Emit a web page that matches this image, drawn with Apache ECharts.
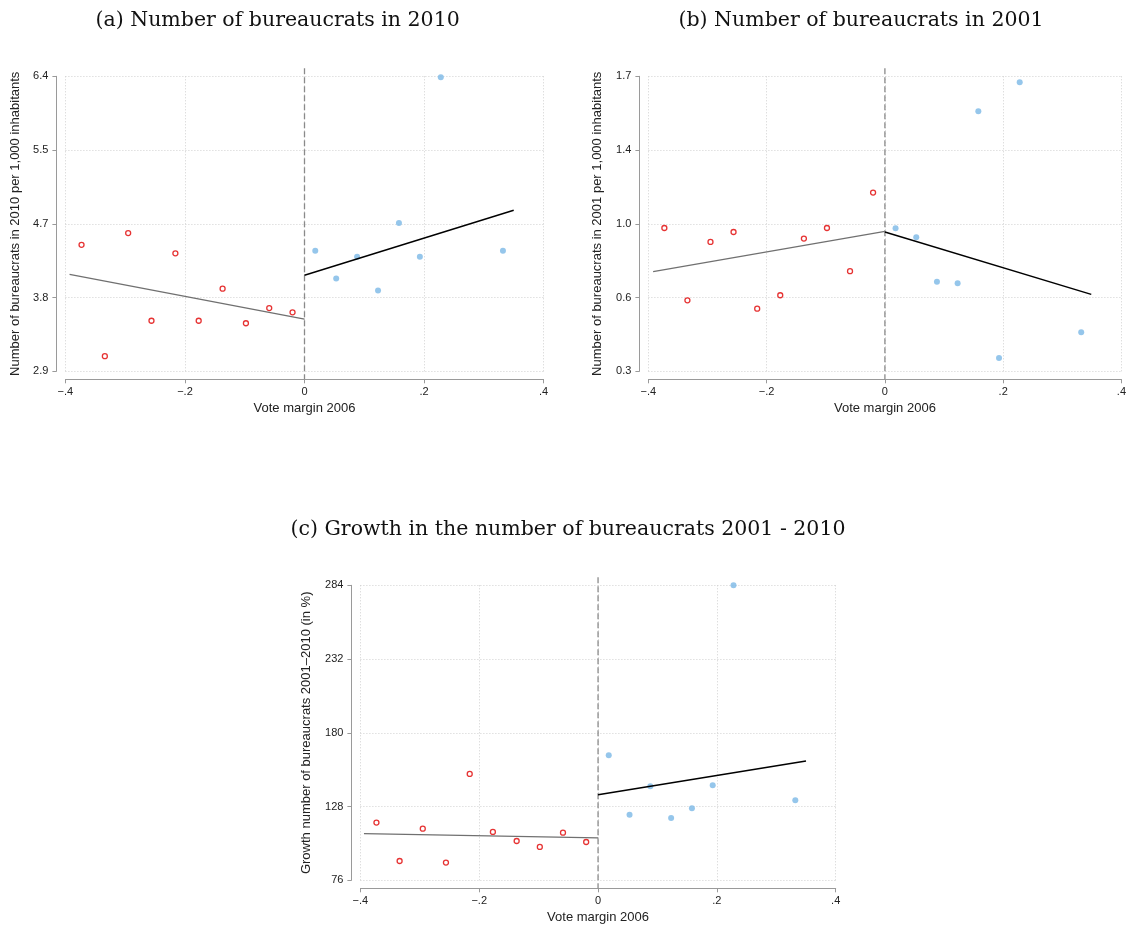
<!DOCTYPE html>
<html>
<head>
<meta charset="utf-8">
<script src="https://cdn.jsdelivr.net/npm/echarts@6/dist/echarts.min.js"></script>
<style>
html,body{margin:0;padding:0;background:#fff;}
#chart{width:1129px;height:927px;}
</style>
</head>
<body>
<div id="chart"></div>
<script>
// ---------- data ----------
const titles = ['(a) Number of bureaucrats in 2010', '(b) Number of bureaucrats in 2001', '(c) Growth in the number of bureaucrats 2001 - 2010'];
const yNames = ['Number of bureaucrats in 2010 per 1,000 inhabitants', 'Number of bureaucrats in 2001 per 1,000 inhabitants', 'Growth number of bureaucrats 2001\u20132010 (in %)'];
const xName = 'Vote margin 2006';
const xTicks = [-0.4, -0.2, 0, 0.2, 0.4];
const xTickLabels = ['\u2212.4', '\u2212.2', '0', '.2', '.4'];

// bin x positions (vote margin)
const redX  = [-0.373, -0.334, -0.295, -0.256, -0.216, -0.177, -0.137, -0.098, -0.059, -0.020];
const blueX = [0.018, 0.053, 0.088, 0.123, 0.158, 0.193, 0.228, 0.332];

// panel (a)
const yTicksA = [2.9, 3.775, 4.65, 5.525, 6.4];
const yLabelsA = ['2.9', '3.8', '4.7', '5.5', '6.4'];
const redA  = [4.40, 3.08, 4.54, 3.50, 4.30, 3.50, 3.88, 3.47, 3.65, 3.60];
const blueA = [4.33, 4.00, 4.26, 3.86, 4.66, 4.26, 6.39, 4.33];
const fitLeftXA = [-0.393, 0], fitLeftYA = [4.05, 3.52];
const fitRightXA = [0, 0.350], fitRightYA = [4.04, 4.81];

// panel (b)
const yTicksB = [0.3, 0.65, 1.0, 1.35, 1.7];
const yLabelsB = ['0.3', '0.6', '1.0', '1.4', '1.7'];
const redB  = [0.980, 0.637, 0.914, 0.961, 0.597, 0.661, 0.930, 0.980, 0.775, 1.148];
const blueB = [0.979, 0.936, 0.725, 0.718, 1.534, 0.363, 1.672, 0.485];
const fitLeftXB = [-0.392, 0], fitLeftYB = [0.773, 0.964];
const fitRightXB = [0, 0.349], fitRightYB = [0.961, 0.665];

// panel (c)
const yTicksC = [76, 128, 180, 232, 284];
const yLabelsC = ['76', '128', '180', '232', '284'];
const redC  = [116.7, 89.6, 112.4, 88.5, 151.0, 110.1, 103.7, 99.5, 109.6, 103.0];
const blueC = [164.1, 122.3, 142.3, 120.0, 126.8, 143.0, 284.0, 132.4];
const fitLeftXC = [-0.394, 0], fitLeftYC = [108.9, 105.9];
const fitRightXC = [0, 0.350], fitRightYC = [136.4, 160.1];

// ---------- layout ----------
const panels = [
  {grid:{left:65.4, top:76.3, width:478.2, height:295}, yTicks:yTicksA, yLabels:yLabelsA, red:redA, blue:blueA,
   fl:[fitLeftXA, fitLeftYA], fr:[fitRightXA, fitRightYA], title:[277.6, 21], nameGap:34},
  {grid:{left:648.4, top:76.3, width:479.2, height:295}, yTicks:yTicksB, yLabels:yLabelsB, red:redB, blue:blueB,
   fl:[fitLeftXB, fitLeftYB], fr:[fitRightXB, fitRightYB], title:[861, 21], nameGap:35},
  {grid:{left:360.4, top:585.3, width:475.3, height:295}, yTicks:yTicksC, yLabels:yLabelsC, red:redC, blue:blueC,
   fl:[fitLeftXC, fitLeftYC], fr:[fitRightXC, fitRightYC], title:[568, 530], nameGap:38}
];

const SANS = '"Liberation Sans", Arial, Helvetica, sans-serif';
const axisGray = '#9a9a9a';
const gridStyle = {show:true, lineStyle:{color:'#d0d0d0', type:[1,2], width:1}};

function nearestLabel(ticks, labels, v) {
  let best = 0, bd = Infinity;
  ticks.forEach((t, i) => { const d = Math.abs(t - v); if (d < bd) { bd = d; best = i; } });
  return labels[best];
}
function pairs(xs, ys) { return xs.map((x, i) => [x, ys[i]]); }

const option = {
  animation: false,
  backgroundColor: '#fff',
  grid: [], xAxis: [], yAxis: [], series: [], graphic: []
};

panels.forEach((p, k) => {
  option.grid.push(Object.assign({containLabel:false}, p.grid));
  option.xAxis.push({
    type:'value', gridIndex:k, min:xTicks[0], max:xTicks[xTicks.length-1], interval:0.2,
    position:'bottom', offset:8,
    axisLine:{show:true, onZero:false, lineStyle:{color:axisGray, width:1}},
    axisTick:{show:true, length:4, lineStyle:{color:axisGray}},
    axisLabel:{color:'#222', fontFamily:SANS, fontSize:11, margin:7,
      formatter:v => nearestLabel(xTicks, xTickLabels, v)},
    splitLine:gridStyle,
    name:xName, nameLocation:'middle', nameGap:23,
    nameTextStyle:{color:'#222', fontFamily:SANS, fontSize:13}
  });
  const yMin = p.yTicks[0], yMax = p.yTicks[p.yTicks.length-1];
  option.yAxis.push({
    type:'value', gridIndex:k, min:yMin, max:yMax, interval:p.yTicks[1]-p.yTicks[0],
    position:'left', offset:9,
    axisLine:{show:true, onZero:false, lineStyle:{color:axisGray, width:1}},
    axisTick:{show:true, length:4, lineStyle:{color:axisGray}},
    axisLabel:{color:'#222', fontFamily:SANS, fontSize:11, margin:8,
      formatter:v => nearestLabel(p.yTicks, p.yLabels, v)},
    splitLine:gridStyle,
    name:yNames[k], nameLocation:'middle', nameGap:p.nameGap, nameRotate:90,
    nameTextStyle:{color:'#222', fontFamily:SANS, fontSize:13}
  });
  // dashed cut-off line at zero, running slightly past the plot range like the original
  const ext = (yMax - yMin) * 8 / p.grid.height;
  option.series.push({
    type:'line', xAxisIndex:k, yAxisIndex:k, data:[[0, yMax + ext], [0, yMin - ext]],
    showSymbol:false, clip:false, silent:true,
    lineStyle:{color:'#8a8a8a', width:1.3, type:[6,3]}, z:3
  });
  option.series.push({
    type:'scatter', xAxisIndex:k, yAxisIndex:k, data:pairs(redX, p.red),
    symbol:'circle', symbolSize:5,
    itemStyle:{color:'#ffffff', borderColor:'#e00000', borderWidth:1.3}, z:4
  });
  option.series.push({
    type:'scatter', xAxisIndex:k, yAxisIndex:k, data:pairs(blueX, p.blue),
    symbol:'circle', symbolSize:6,
    itemStyle:{color:'#7ab8e6'}, z:4
  });
  option.series.push({
    type:'line', xAxisIndex:k, yAxisIndex:k, data:pairs(p.fl[0], p.fl[1]),
    showSymbol:false, lineStyle:{color:'#707070', width:1.2}, z:5
  });
  option.series.push({
    type:'line', xAxisIndex:k, yAxisIndex:k, data:pairs(p.fr[0], p.fr[1]),
    showSymbol:false, lineStyle:{color:'#000000', width:1.5}, z:5
  });
  option.graphic.push({
    type:'text', x:p.title[0], y:p.title[1],
    style:{text:titles[k], font:'20.5px "DejaVu Serif", serif', fill:'#111',
      textAlign:'center', textVerticalAlign:'middle'}
  });
});

const chart = echarts.init(document.getElementById('chart'), null, {renderer:'canvas'});
chart.setOption(option);
</script>
</body>
</html>
